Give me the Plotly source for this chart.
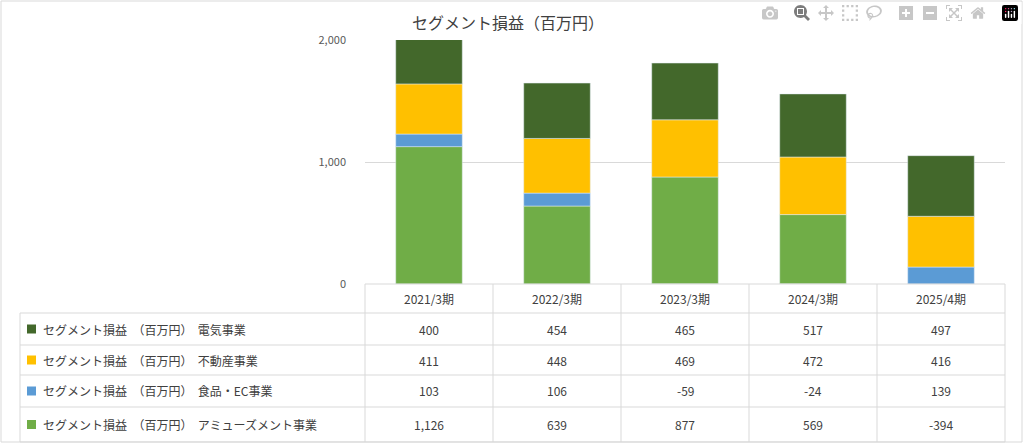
import plotly.graph_objects as go

periods = ["2021/3期", "2022/3期", "2023/3期", "2024/3期", "2025/4期"]
amuse = [1126, 639, 877, 569, -394]
food = [103, 106, -59, -24, 139]
realty = [411, 448, 469, 472, 416]
power = [400, 454, 465, 517, 497]

series = [
    ("セグメント損益 （百万円） アミューズメント事業", amuse, "#70AD47"),
    ("セグメント損益 （百万円） 食品・EC事業", food, "#5B9BD5"),
    ("セグメント損益 （百万円） 不動産事業", realty, "#FFC000"),
    ("セグメント損益 （百万円） 電気事業", power, "#43682B"),
]

W, H = 1024, 444
L, R, T, B = 365, 1005, 40, 284
def px(x): return (x - L) / (R - L)
def py(y): return (B - y) / (B - T)

fig = go.Figure()
for name, vals, col in series:
    fig.add_trace(go.Bar(x=periods, y=vals, name=name, marker_color=col, width=0.52))

shapes, annots = [], []
line = dict(color="#D9D9D9", width=1)
font = dict(family="Noto Sans CJK JP", size=12, color="#404040")
# table grid
cols = [L + i * (R - L) / 5 for i in range(6)]
rows = [B, 313, 345, 375, 407, 442]
for x in cols:
    shapes.append(dict(type="line", xref="paper", yref="paper", x0=px(x), x1=px(x), y0=py(B), y1=py(442), line=line))
shapes.append(dict(type="line", xref="paper", yref="paper", x0=px(20), x1=px(20), y0=py(313), y1=py(442), line=line))
for j, y in enumerate(rows):
    x0 = L if j == 0 else 20
    shapes.append(dict(type="line", xref="paper", yref="paper", x0=px(x0), x1=px(R), y0=py(y), y1=py(y), line=line))
# outer frame
shapes.append(dict(type="rect", xref="paper", yref="paper", x0=px(1), x1=px(W - 2), y0=py(1), y1=py(H - 2), line=dict(color="#D9D9D9", width=1)))

def note(x, y, text, anchor="center", f=font):
    annots.append(dict(x=px(x), y=py(y), xref="paper", yref="paper", text=text, showarrow=False,
                       xanchor=anchor, yanchor="middle", font=f))

for i, p in enumerate(periods):
    note((cols[i] + cols[i + 1]) / 2, (rows[0] + rows[1]) / 2, p)
for r, (name, vals, col) in enumerate(reversed(series)):
    yc = (rows[r + 1] + rows[r + 2]) / 2
    shapes.append(dict(type="rect", xref="paper", yref="paper", x0=px(27), x1=px(36), y0=py(yc + 4.5), y1=py(yc - 4.5), fillcolor=col, line=dict(width=0)))
    note(41, yc, name.replace(" ", "&nbsp;&nbsp;"), anchor="left")
    for i, v in enumerate(vals):
        note((cols[i] + cols[i + 1]) / 2, yc, f"{v:,}")
note(508, 22, "セグメント損益（百万円）", f=dict(family="Noto Sans CJK JP", size=16, color="#404040"))

fig.update_layout(
    width=W, height=H, margin=dict(l=L, r=W - R, t=T, b=H - B),
    barmode="relative", showlegend=False, plot_bgcolor="white", paper_bgcolor="white",
    xaxis=dict(showticklabels=False, showline=False),
    yaxis=dict(range=[0, 2000], tickvals=[0, 1000, 2000], tickformat=",", gridcolor="#D9D9D9",
               zeroline=False, ticklabelstandoff=18, tickfont=dict(family="Noto Sans CJK JP", size=11, color="#595959")),
    shapes=shapes, annotations=annots,
)
fig.write_html("out.html", post_script="document.body.style.margin='0';")
